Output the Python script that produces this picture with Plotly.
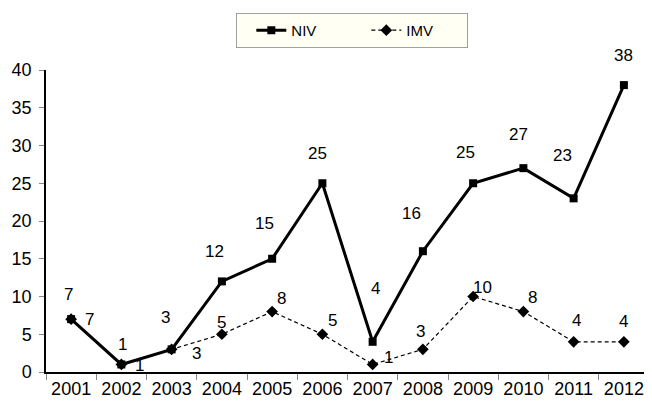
import plotly.graph_objects as go

years = ["2001", "2002", "2003", "2004", "2005", "2006", "2007", "2008", "2009", "2010", "2011", "2012"]
niv = [7, 1, 3, 12, 15, 25, 4, 16, 25, 27, 23, 38]
imv = [7, 1, 3, 5, 8, 5, 1, 3, 10, 8, 4, 4]

# label offsets in pixels (dx, dy; dy positive = up)
niv_label_dx = [-3, 1, -6, -7, -8, -5, 3, -11, -8, -5, -11, 0]
niv_label_dy = [25, 20, 32, 30, 35, 30, 53, 38, 31, 34, 43, 30]
imv_label_dx = [18, 18, 25, 0, 9, 10, 16, -2, 9, 9, 3, 0]
imv_label_dy = [0, -1, -4, 12, 13, 14, 7, 18, 9, 14, 21, 20]

FONT = "Liberation Sans, Arial, sans-serif"

fig = go.Figure()
fig.add_trace(go.Scatter(
    x=years, y=niv, name="NIV", mode="lines+markers",
    line=dict(color="black", width=3),
    marker=dict(symbol="square", size=8, color="black"),
    cliponaxis=False,
))
fig.add_trace(go.Scatter(
    x=years, y=imv, name="IMV", mode="lines+markers",
    line=dict(color="black", width=1.2, dash="4px,3px"),
    marker=dict(symbol="diamond", size=9, color="black"),
    cliponaxis=False,
))

annotations = []
for i in range(len(years)):
    annotations.append(dict(x=i, y=niv[i], xref="x", yref="y", text=str(niv[i]), showarrow=False,
                            xshift=niv_label_dx[i], yshift=niv_label_dy[i],
                            xanchor="center", yanchor="middle",
                            font=dict(size=17, color="black", family=FONT)))
    annotations.append(dict(x=i, y=imv[i], xref="x", yref="y", text=str(imv[i]), showarrow=False,
                            xshift=imv_label_dx[i], yshift=imv_label_dy[i],
                            xanchor="center", yanchor="middle",
                            font=dict(size=17, color="black", family=FONT)))

fig.update_layout(
    width=644, height=395,
    margin=dict(l=38, r=3, t=62, b=31),
    paper_bgcolor="white", plot_bgcolor="white",
    font=dict(family=FONT, size=18, color="black"),
    showlegend=True,
    legend=dict(orientation="h", x=0.508, xanchor="center", y=1.131, yanchor="middle",
                bgcolor="#FFFFF4", bordercolor="#A0A0A0", borderwidth=1,
                font=dict(size=15, family=FONT, color="black"),
                indentation=14,
                entrywidth=56, entrywidthmode="pixels"),
    annotations=annotations,
    xaxis=dict(type="category", range=[-0.5, len(years) - 0.5], autorange=False,
               showline=True, linecolor="black", linewidth=1.5,
               ticks="outside", tickson="boundaries", ticklen=6, tickcolor="#888",
               showgrid=False, zeroline=False, tickfont=dict(size=18), tickangle=0),
    yaxis=dict(range=[0, 40], dtick=5, showline=True, linecolor="black", linewidth=1.5,
               ticks="outside", ticklen=5, tickcolor="#888", ticklabelstandoff=4,
               showgrid=False, zeroline=False, tickfont=dict(size=18)),
)

fig.write_html("out.html")
